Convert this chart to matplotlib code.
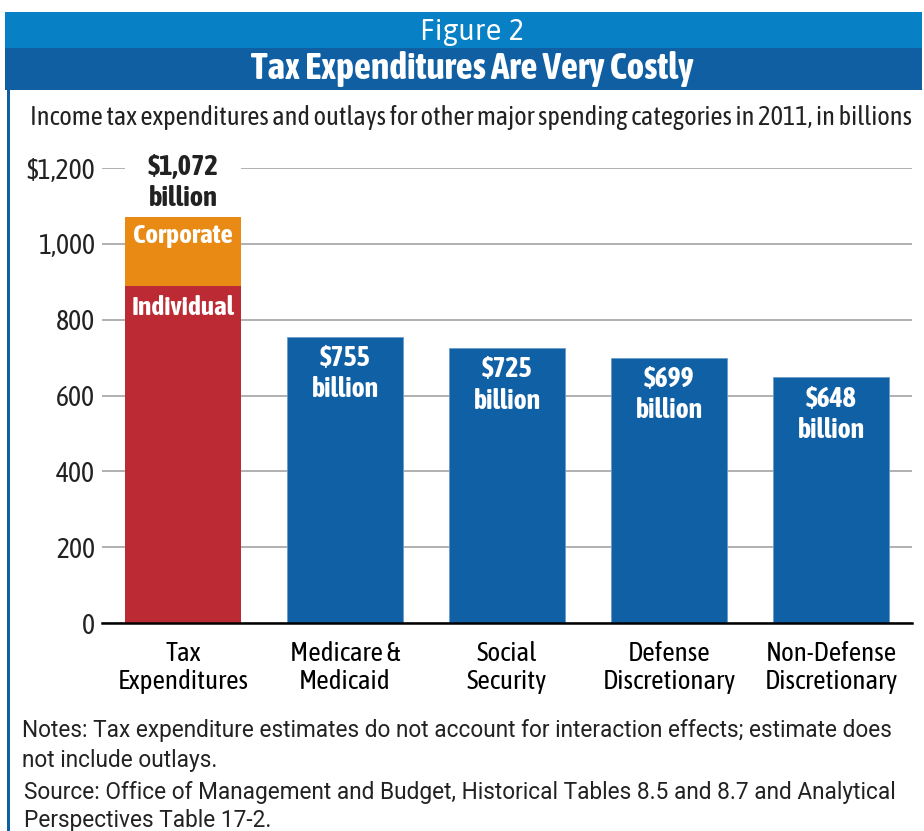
import matplotlib.pyplot as plt
from matplotlib.patches import Rectangle

# data
categories = ["Tax\nExpenditures", "Medicare &\nMedicaid", "Social\nSecurity",
              "Defense\nDiscretionary", "Non-Defense\nDiscretionary"]
individual = 890
corporate = 182
total_tax = 1072
outlays = [755, 725, 699, 648]
yticks = [0, 200, 400, 600, 800, 1000, 1200]
ytick_labels = ["0", "200", "400", "600", "800", "1,000", "$1,200"]
notes_lines = [
    "Notes: Tax expenditure estimates do not account for interaction effects; estimate does",
    "not include outlays.",
]
source_lines = [
    "Source: Office of Management and Budget, Historical Tables 8.5 and 8.7 and Analytical",
    "Perspectives Table 17-2.",
]

COND = ["Asap Condensed", "Archivo Narrow", "DejaVu Sans"]
HEAD = ["Asap", "Asap Condensed", "DejaVu Sans"]
NOTES = ["Roboto", "DejaVu Sans"]
plt.rcParams["font.family"] = COND
plt.rcParams["font.stretch"] = "condensed"

RED = "#bc2a33"
ORANGE = "#e88a14"
BLUE = "#1060a5"
BAND1 = "#0880c6"
BAND2 = "#105fa3"
TEXT = "#222222"

W, H = 924, 831
fig = plt.figure(figsize=(W / 100, H / 100), dpi=100)


def fx(px):
    return px / W


def fy(py):
    return 1 - py / H


# header bands and border
fig.patches.append(Rectangle((fx(5), fy(48)), fx(917), 36 / H, transform=fig.transFigure,
                             facecolor=BAND1, edgecolor="none"))
fig.patches.append(Rectangle((fx(5), fy(90)), fx(917), 42 / H, transform=fig.transFigure,
                             facecolor=BAND2, edgecolor="none"))
fig.patches.append(Rectangle((fx(6.5), 0), fx(3), fy(90), transform=fig.transFigure,
                             facecolor=BAND2, edgecolor="none"))
fig.text(fx(472), fy(31), "Figure 2", color="white", fontsize=21, family=HEAD,
         stretch="normal", ha="center", va="center")
fig.text(fx(472), fy(69), "Tax Expenditures Are Very Costly", color="white", fontsize=27,
         fontweight="bold", ha="center", va="center")
fig.text(fx(471), fy(118), "Income tax expenditures and outlays for other major spending "
         "categories in 2011, in billions", color=TEXT, fontsize=19, ha="center", va="center")

# chart
ax = fig.add_axes([fx(102), fy(623), fx(810), (623 - 168) / H])
x = list(range(len(categories)))
bw = 0.72
ax.bar(x[0], individual, width=bw, color=RED, zorder=2)
ax.bar(x[0], corporate, bottom=individual, width=bw, color=ORANGE, zorder=2)
ax.bar(x[1:], outlays, width=bw, color=BLUE, edgecolor="#6a9cc9", linewidth=0.6, zorder=2)
# white gap in the top gridline above the total label
ax.add_patch(Rectangle((x[0] - bw / 2, total_tax + 60), bw, 1200 - total_tax, facecolor="white",
                       edgecolor="none", zorder=1, clip_on=False))

ax.set_xlim(-0.5, 4.5)
ax.set_ylim(0, 1200)
ax.set_yticks(yticks)
ax.set_yticklabels(ytick_labels)
ax.set_xticks(x)
ax.set_xticklabels(categories, linespacing=1.15)
ax.tick_params(axis="y", length=0, pad=5, labelsize=20, labelcolor=TEXT)
ax.tick_params(axis="x", length=0, pad=13, labelsize=19.5, labelcolor="black")
ax.grid(axis="y", color="#b0b0b0", linewidth=1.4, zorder=0)
ax.set_axisbelow(True)
for s in ["top", "left", "right"]:
    ax.spines[s].set_visible(False)
ax.spines["bottom"].set_linewidth(1.8)
ax.spines["bottom"].set_color("black")
ax.spines["bottom"].set_zorder(3)

ax.annotate(f"${total_tax:,}\nbillion", (x[0], total_tax), xytext=(0, 3),
            textcoords="offset points", ha="center", va="bottom", fontsize=20.5,
            fontweight="bold", color=TEXT, linespacing=1.22, zorder=3)
ax.annotate("Corporate", (x[0], total_tax), xytext=(0, -5), textcoords="offset points",
            ha="center", va="top", fontsize=19.5, fontweight="bold", color="white", zorder=3)
ax.annotate("Individual", (x[0], individual), xytext=(0, -7), textcoords="offset points",
            ha="center", va="top", fontsize=19.5, fontweight="bold", color="white", zorder=3)
for xi, v in zip(x[1:], outlays):
    ax.annotate(f"${v}\nbillion", (xi, v), xytext=(0, -6), textcoords="offset points",
                ha="center", va="top", fontsize=20, fontweight="bold", color="white",
                linespacing=1.2, zorder=3)

# notes, one line at a time
for line, py in zip(notes_lines, [730, 760]):
    fig.text(fx(22), fy(py), line, color=TEXT, fontsize=16.3, family=NOTES,
             stretch="normal", va="center")
for line, py in zip(source_lines, [792, 820]):
    fig.text(fx(24), fy(py), line, color=TEXT, fontsize=16.3, family=NOTES,
             stretch="normal", va="center")

fig.savefig("out.png", dpi=100)
